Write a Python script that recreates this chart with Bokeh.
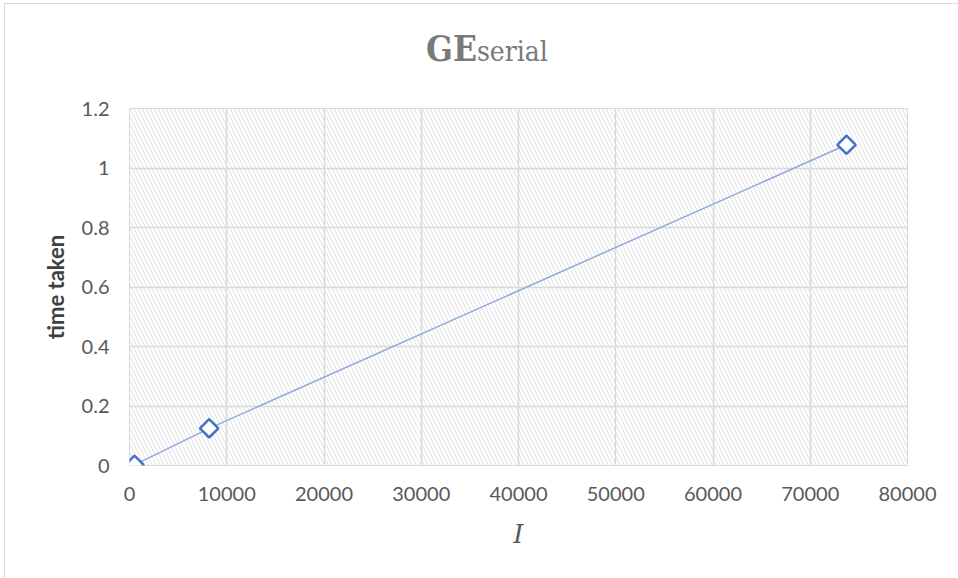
from bokeh.plotting import figure
from bokeh.models import BoxAnnotation, FixedTicker, ColumnDataSource, Div
from bokeh.layouts import column
from bokeh.embed import file_html
from bokeh.resources import INLINE

sizes = [512, 8192, 73728]
times = [0.002, 0.125, 1.078]
x_ticks = [0, 10000, 20000, 30000, 40000, 50000, 60000, 70000, 80000]
y_ticks = [0, 0.2, 0.4, 0.6, 0.8, 1.0, 1.2]
y_tick_labels = {0: "0", 0.2: "0.2", 0.4: "0.4", 0.6: "0.6", 0.8: "0.8", 1.0: "1", 1.2: "1.2"}
title_main = "GE"
title_sub = "serial"

src = ColumnDataSource(dict(x=sizes, y=times))

title_div = Div(
    text=('<div style="padding-left:421px; padding-top:23px; color:#7a7a7a; '
          'font-family:\'DejaVu Serif Condensed\', \'DejaVu Serif\'; white-space:nowrap; line-height:44px;">'
          f'<span style="font-size:35px; font-weight:bold;">{title_main}</span>'
          f'<span style="font-size:28px;">{title_sub}</span></div>'),
    width=953, height=84, margin=0)

p = figure(width=953, height=490, output_backend="svg", toolbar_location=None,
           x_range=(0, 80000), y_range=(0, 1.2))
p.margin = 0
p.min_border_left = 124
p.min_border_right = 51
p.min_border_top = 20
p.min_border_bottom = 113
p.outline_line_color = "#d9d9d9"
p.background_fill_color = "white"
p.border_fill_color = "white"

p.add_layout(BoxAnnotation(fill_alpha=0, line_alpha=0, hatch_pattern="left_diagonal_line",
                           hatch_color="#dcdcdc", hatch_scale=8, hatch_weight=0.9,
                           level="underlay"))

for ax in (p.xaxis[0], p.yaxis[0]):
    ax.axis_line_color = None
    ax.major_tick_line_color = None
    ax.minor_tick_line_color = None
    ax.major_label_text_font = "Lato"
    ax.major_label_text_font_size = "20px"
    ax.major_label_text_color = "#595959"

p.xaxis.ticker = FixedTicker(ticks=x_ticks)
p.yaxis.ticker = FixedTicker(ticks=y_ticks)
p.yaxis.major_label_overrides = y_tick_labels
p.xaxis.major_label_standoff = 15
p.yaxis.major_label_standoff = 14

p.xaxis.axis_label = "I"
p.xaxis.axis_label_text_font = "DejaVu Serif"
p.xaxis.axis_label_text_font_style = "italic"
p.xaxis.axis_label_text_font_size = "26px"
p.xaxis.axis_label_text_color = "#595959"
p.xaxis.axis_label_standoff = 15

p.yaxis.axis_label = "time taken"
p.yaxis.axis_label_text_font = "Lato"
p.yaxis.axis_label_text_font_style = "bold"
p.yaxis.axis_label_text_font_size = "22px"
p.yaxis.axis_label_text_color = "#404040"
p.yaxis.axis_label_standoff = 10

p.grid.grid_line_color = "#d9d9d9"
p.grid.grid_line_width = 1.5
p.xgrid.ticker = FixedTicker(ticks=x_ticks)
p.ygrid.ticker = FixedTicker(ticks=y_ticks)

p.line("x", "y", source=src, line_color="#8faadc", line_width=1.5)
p.scatter("x", "y", source=src, marker="square", angle=0.785398, size=13,
          fill_color="white", line_color="#4472c4", line_width=2.5)

layout = column(title_div, p, spacing=0)
layout.styles = {"margin-left": "4px", "margin-top": "3px", "background": "white",
                 "border-top": "1px solid #d9d9d9", "border-left": "1px solid #d9d9d9"}

open("out.html", "w").write(file_html(layout, INLINE))
